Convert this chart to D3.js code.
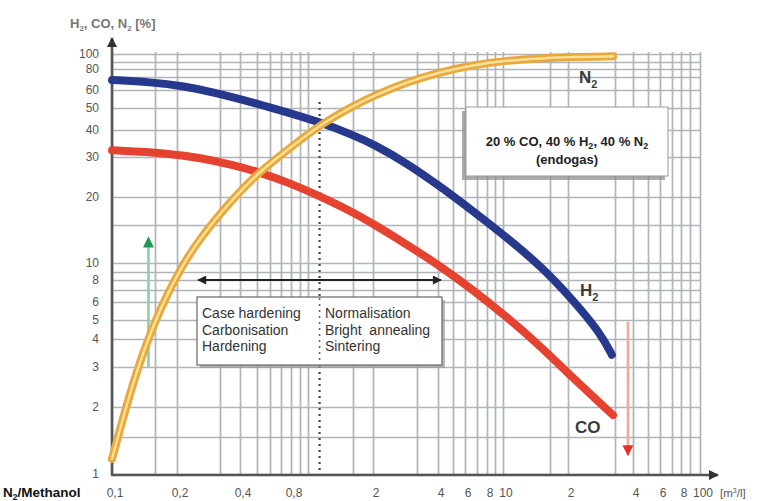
<!DOCTYPE html>
<html>
<head>
<meta charset="utf-8">
<script src="https://cdn.jsdelivr.net/npm/d3@7"></script>
<style>
  body { margin: 0; background: #fff; }
  svg text { font-family: "Liberation Sans", Arial, sans-serif; }
</style>
</head>
<body>
<div id="chart"></div>
<script>
// grid and tick values
const xGridValues = [0.1, 0.15, 0.2, 0.3, 0.4, 0.5, 0.6, 0.7, 0.8, 0.9, 1, 1.5, 2, 3, 4, 5, 6, 7, 8, 9, 10, 15, 20, 30, 40, 50, 60, 70, 80, 90, 100];
const yGridValues = [1, 1.5, 2, 3, 4, 5, 6, 7, 8, 9, 10, 15, 20, 30, 40, 50, 60, 70, 80, 90, 100];
const xTickValues = [0.1, 0.2, 0.4, 0.8, 2, 4, 6, 8, 10, 20, 40, 60, 80, 100];
const xTickLabels = ["0,1", "0,2", "0,4", "0,8", "2", "4", "6", "8", "10", "2", "4", "6", "8", "100"];
const yTickValues = [1, 2, 3, 4, 5, 6, 8, 10, 20, 30, 40, 50, 60, 80, 100];

// curves: [m3/l, %]
const n2Values = [[0.1, 1.18], [0.107, 1.57], [0.118, 2.26], [0.134, 3.5], [0.161, 5.65], [0.207, 9.43],
  [0.249, 13.1], [0.346, 19.0], [0.5, 25.3], [0.76, 32.3], [1.11, 42.1], [1.5, 51.0], [2, 56.5],
  [2.73, 65.9], [4.12, 76], [6.65, 85.6], [10.35, 91.8], [13.8, 94.6], [20.9, 96.2], [29.5, 97.0]];
const h2Values = [[0.1, 67.6], [0.143, 65.9], [0.213, 62.9], [0.292, 58.2], [0.456, 53.3], [0.72, 48.5],
  [1.11, 43.4], [1.5, 37.9], [2, 34.5], [2.73, 28.2], [4.12, 22.3], [6.65, 17.3], [10.35, 13.1],
  [13.8, 9.7], [20.9, 6.15], [26.4, 4.3], [29.2, 3.4]];
const coValues = [[0.1, 32.2], [0.177, 31.3], [0.249, 29.7], [0.362, 27.7], [0.505, 25.8], [0.76, 23.3],
  [1.11, 20.2], [1.5, 17.1], [2, 15.2], [2.73, 12.2], [4.12, 9.66], [6.65, 7.0], [10.35, 5.15],
  [13.8, 3.72], [20.9, 2.68], [27.1, 2.02], [29.5, 1.85]];

// annotations
const boundaryValue = 1.11;
const processRange = [0.244, 4.18];
const processRangeLevel = 8;
const upArrow = { x: 0.141, from: 3.0, to: 13.1 };
const downArrow = { x: 36.9, from: 4.9, to: 1.23 };
const leftProcesses = ["Case hardening", "Carbonisation", "Hardening"];
const rightProcesses = ["Normalisation", "Bright  annealing", "Sintering"];

const width = 758, height = 501;

const svg = d3.select("#chart").append("svg")
  .attr("width", width)
  .attr("height", height);

// the printed grid is not a clean log grid, so piecewise log scales follow it
const xScale = d3.scaleLog()
  .domain(xGridValues)
  .range([112, 155, 177, 220, 240, 257, 270, 281, 291, 300, 308, 353, 373, 417, 438, 453, 465, 477, 487, 495, 503,
    550, 568, 615, 633, 648, 660, 672, 681, 690, 700]);
const yScale = d3.scaleLog()
  .domain(yGridValues)
  .range([474, 437, 407, 367, 339, 320, 302, 290, 280, 272, 263, 225, 197, 157, 130, 108, 90, 77, 69, 62, 54]);

const defs = svg.append("defs");
function marker(id, color, w, h) {
  defs.append("marker")
    .attr("id", id)
    .attr("viewBox", "0 0 10 10")
    .attr("refX", 9).attr("refY", 5)
    .attr("markerUnits", "userSpaceOnUse")
    .attr("markerWidth", w).attr("markerHeight", h)
    .attr("orient", "auto-start-reverse")
    .append("path")
    .attr("d", "M0,0L10,5L0,10Z")
    .attr("fill", color);
}
marker("headBlack", "#222", 12, 9);
marker("headAxis", "#333", 12, 10);
marker("headGreen", "#1d9a55", 13, 11);
marker("headRed", "#e8302a", 13, 11);

// grid
svg.append("g")
  .attr("transform", `translate(0,${yScale(1)})`)
  .call(d3.axisBottom(xScale).tickValues(xGridValues).tickSize(-(yScale(1) - 52)).tickFormat(""))
  .call(g => g.select(".domain").remove())
  .selectAll("line").attr("stroke", "#b0b3b8").attr("stroke-width", 1.7);

svg.append("g")
  .attr("transform", `translate(${xScale(0.1)},0)`)
  .call(d3.axisLeft(yScale).tickValues(yGridValues).tickSize(-(xScale(100) - xScale(0.1))).tickFormat(""))
  .call(g => g.select(".domain").remove())
  .selectAll("line").attr("stroke", "#b0b3b8").attr("stroke-width", 1.7);

// dotted boundary
svg.append("line")
  .attr("x1", xScale(boundaryValue)).attr("x2", xScale(boundaryValue))
  .attr("y1", 102).attr("y2", yScale(1))
  .attr("stroke", "#444").attr("stroke-width", 2.2)
  .attr("stroke-dasharray", "2,4");

// axes
svg.append("line")
  .attr("x1", xScale(0.1)).attr("x2", xScale(0.1))
  .attr("y1", yScale(1) + 1).attr("y2", 38)
  .attr("stroke", "#555").attr("stroke-width", 2.6)
  .attr("marker-end", "url(#headAxis)");
svg.append("line")
  .attr("x1", xScale(0.1) - 1).attr("x2", 718)
  .attr("y1", yScale(1) + 1).attr("y2", yScale(1) + 1)
  .attr("stroke", "#555").attr("stroke-width", 2.6)
  .attr("marker-end", "url(#headAxis)");

// tick labels
svg.append("g").selectAll("text")
  .data(yTickValues)
  .join("text")
  .attr("x", 99)
  .attr("y", d => yScale(d) + 4)
  .attr("text-anchor", "end")
  .attr("font-size", 12)
  .attr("fill", "#555")
  .text(d => d);

svg.append("g").selectAll("text")
  .data(xTickValues)
  .join("text")
  .attr("x", d => xScale(d) + 3)
  .attr("y", 497)
  .attr("text-anchor", "middle")
  .attr("font-size", 12)
  .attr("fill", "#555")
  .text((d, i) => xTickLabels[i]);

const unit = svg.append("text")
  .attr("x", 720).attr("y", 497)
  .attr("font-size", 11.5).attr("fill", "#555");
unit.append("tspan").text("[m");
unit.append("tspan").attr("font-size", 7).attr("dy", -4).text("3");
unit.append("tspan").attr("dy", 4).text("/l]");

const methanol = svg.append("text")
  .attr("x", 3).attr("y", 497)
  .attr("font-size", 13.5).attr("font-weight", "bold").attr("fill", "#111");
methanol.append("tspan").text("N");
methanol.append("tspan").attr("font-size", 8.5).attr("dy", 3).text("2");
methanol.append("tspan").attr("dy", -3).text("/Methanol");

const yTitle = svg.append("text")
  .attr("x", 70).attr("y", 28)
  .attr("font-size", 13).attr("font-weight", "bold").attr("fill", "#777");
yTitle.append("tspan").text("H");
yTitle.append("tspan").attr("font-size", 8).attr("dy", 3).text("2");
yTitle.append("tspan").attr("dy", -3).text(", CO, N");
yTitle.append("tspan").attr("font-size", 8).attr("dy", 3).text("2");
yTitle.append("tspan").attr("dy", -3).text(" [%]");

// process range arrow and box
svg.append("line")
  .attr("x1", xScale(processRange[0])).attr("x2", xScale(processRange[1]))
  .attr("y1", yScale(processRangeLevel)).attr("y2", yScale(processRangeLevel))
  .attr("stroke", "#222").attr("stroke-width", 1.8)
  .attr("marker-start", "url(#headBlack)")
  .attr("marker-end", "url(#headBlack)");

svg.append("rect")
  .attr("x", 200).attr("y", 300).attr("width", 245).attr("height", 68)
  .attr("fill", "#9a9a9a").attr("opacity", 0.7);
svg.append("rect")
  .attr("x", 197).attr("y", 297).attr("width", 245).attr("height", 68)
  .attr("fill", "#fff").attr("stroke", "#666").attr("stroke-width", 1.2);

// dotted line runs through the box
svg.append("line")
  .attr("x1", xScale(boundaryValue)).attr("x2", xScale(boundaryValue))
  .attr("y1", 298).attr("y2", 364)
  .attr("stroke", "#666").attr("stroke-width", 1.6)
  .attr("stroke-dasharray", "2,4");

svg.append("g").selectAll("text")
  .data(leftProcesses)
  .join("text")
  .attr("x", 202).attr("y", (d, i) => 318 + i * 16.5)
  .attr("font-size", 14).attr("fill", "#333")
  .text(d => d);
svg.append("g").selectAll("text")
  .data(rightProcesses)
  .join("text")
  .attr("x", 325).attr("y", (d, i) => 318 + i * 16.5)
  .attr("font-size", 14).attr("fill", "#333")
  .style("white-space", "pre")
  .attr("xml:space", "preserve")
  .text(d => d);

// endogas box
svg.append("rect")
  .attr("x", 462).attr("y", 111).attr("width", 203).attr("height", 69)
  .attr("fill", "#8e8e8e").attr("opacity", 0.75);
svg.append("rect")
  .attr("x", 466).attr("y", 107).attr("width", 202).attr("height", 69)
  .attr("fill", "#fff").attr("stroke", "#999").attr("stroke-width", 1);

const endo = svg.append("text")
  .attr("x", 567).attr("y", 146)
  .attr("text-anchor", "middle")
  .attr("font-size", 13).attr("font-weight", "bold").attr("fill", "#222");
endo.append("tspan").text("20 % CO, 40 % H");
endo.append("tspan").attr("font-size", 9).attr("dy", 3).text("2");
endo.append("tspan").attr("dy", -3).text(", 40 % N");
endo.append("tspan").attr("font-size", 9).attr("dy", 3).text("2");
svg.append("text")
  .attr("x", 567).attr("y", 164)
  .attr("text-anchor", "middle")
  .attr("font-size", 13).attr("font-weight", "bold").attr("fill", "#222")
  .text("(endogas)");

// green and red arrows
svg.append("line")
  .attr("x1", xScale(upArrow.x)).attr("x2", xScale(upArrow.x))
  .attr("y1", yScale(upArrow.from)).attr("y2", yScale(upArrow.to))
  .attr("stroke", "#8fcfa6").attr("stroke-width", 2.6)
  .attr("marker-end", "url(#headGreen)");
svg.append("line")
  .attr("x1", xScale(downArrow.x)).attr("x2", xScale(downArrow.x))
  .attr("y1", yScale(downArrow.from)).attr("y2", yScale(downArrow.to))
  .attr("stroke", "#f5a896").attr("stroke-width", 2.6)
  .attr("marker-end", "url(#headRed)");

// curves (B-spline smooths the read-off points)
const line = d3.line()
  .x(d => xScale(d[0]))
  .y(d => yScale(d[1]))
  .curve(d3.curveBasis);

svg.append("path").datum(coValues)
  .attr("d", line).attr("fill", "none")
  .attr("stroke", "#e5432f").attr("stroke-width", 8).attr("stroke-linecap", "round");
svg.append("path").datum(h2Values)
  .attr("d", line).attr("fill", "none")
  .attr("stroke", "#27398c").attr("stroke-width", 8).attr("stroke-linecap", "round");
svg.append("path").datum(n2Values)
  .attr("d", line).attr("fill", "none")
  .attr("stroke", "#e9a83a").attr("stroke-width", 8).attr("stroke-linecap", "round");
svg.append("path").datum(n2Values)
  .attr("d", line).attr("fill", "none")
  .attr("stroke", "#fbe09a").attr("stroke-width", 2.5).attr("stroke-linecap", "round");

// series labels
function seriesLabel(x, y, main, sub) {
  const t = svg.append("text")
    .attr("x", x).attr("y", y)
    .attr("font-size", 17).attr("font-weight", "bold").attr("fill", "#3a3a3a");
  t.append("tspan").text(main);
  if (sub) t.append("tspan").attr("font-size", 11).attr("dy", 5).text(sub);
}
seriesLabel(579, 83, "N", "2");
seriesLabel(580, 296, "H", "2");
seriesLabel(575, 433, "CO");
</script>
</body>
</html>
